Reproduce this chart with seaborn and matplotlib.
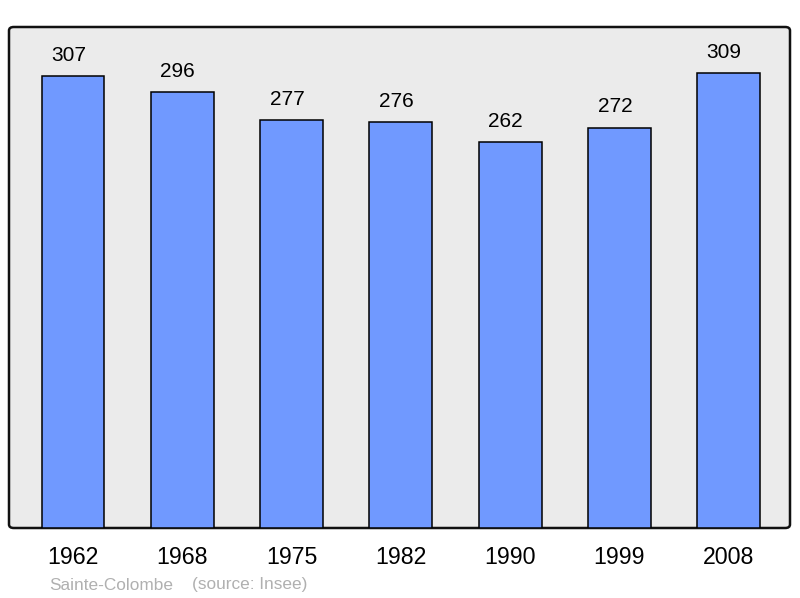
import matplotlib
matplotlib.use("Agg")
import matplotlib.pyplot as plt
import seaborn as sns
import pandas as pd
from matplotlib.patches import FancyBboxPatch

years = ["1962", "1968", "1975", "1982", "1990", "1999", "2008"]
population = [307, 296, 277, 276, 262, 272, 309]
commune = "Sainte-Colombe"
source = "(source: Insee)"

sns.set_style("white")
plt.rcParams['font.family'] = ['Liberation Sans', 'DejaVu Sans']

df = pd.DataFrame({"year": years, "pop": population})

W, H = 800, 598
fig = plt.figure(figsize=(W / 100, H / 100), dpi=100)
ax_l, ax_r, ax_t, ax_b = 9, 790, 27, 528
ax = fig.add_axes([ax_l / W, 1 - ax_b / H, (ax_r - ax_l) / W, (ax_b - ax_t) / H])
ax.set_facecolor("none")

bg = FancyBboxPatch((ax_l / W, 1 - ax_b / H), (ax_r - ax_l) / W, (ax_b - ax_t) / H,
                    boxstyle="round,pad=0,rounding_size=0.006",
                    transform=fig.transFigure, facecolor="#ebebeb",
                    edgecolor="#111111", linewidth=1.8, zorder=-5)
fig.patches.append(bg)

sns.barplot(data=df, x="year", y="pop", order=years, color="#7099ff",
            saturation=1, width=0.575, edgecolor="black", linewidth=1.1, ax=ax, zorder=2)

for i, v in enumerate(population):
    ax.annotate(str(v), (i, v), xytext=(-3.3, 8), textcoords="offset points",
                ha="center", va="bottom", fontsize=15, color="black")

ax.set_xlim(-0.585, 6.56)
ax.set_ylim(0, 340.3)
ax.set_yticks([])
ax.set_xlabel("")
ax.set_ylabel("")
for s in ax.spines.values():
    s.set_visible(False)
ax.tick_params(axis="x", length=0, pad=13, labelsize=16.7, colors="black")

fig.text(49 / W, 1 - 585 / H, commune, fontsize=12.4, color="#b0b0b0", ha="left", va="center")
fig.text(192 / W, 1 - 585 / H, source, fontsize=12.4, color="#b0b0b0", ha="left", va="center")

fig.savefig("out.png", dpi=100)
